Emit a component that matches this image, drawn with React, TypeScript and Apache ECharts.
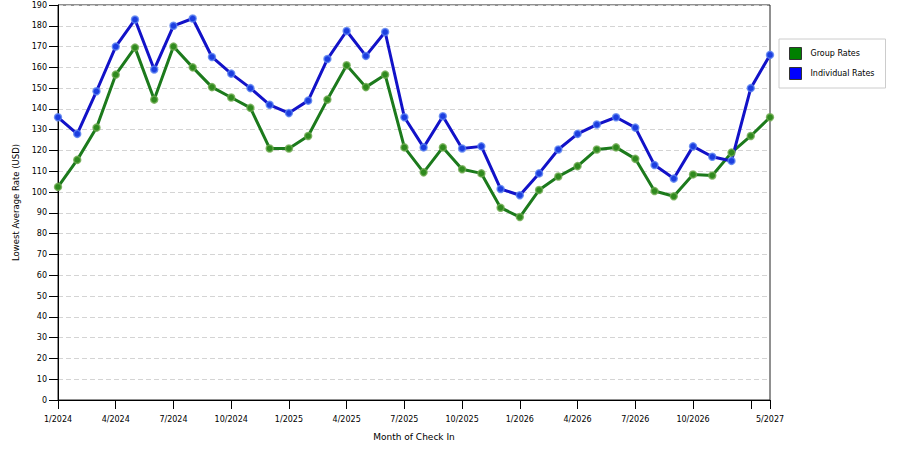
import React, { useRef, useEffect } from 'react';
import * as echarts from 'echarts';

// months on the axis (data jumps from 1/2027 to 5/2027)
const months = [
  '1/2024', '2/2024', '3/2024', '4/2024', '5/2024', '6/2024', '7/2024', '8/2024', '9/2024', '10/2024', '11/2024', '12/2024',
  '1/2025', '2/2025', '3/2025', '4/2025', '5/2025', '6/2025', '7/2025', '8/2025', '9/2025', '10/2025', '11/2025', '12/2025',
  '1/2026', '2/2026', '3/2026', '4/2026', '5/2026', '6/2026', '7/2026', '8/2026', '9/2026', '10/2026', '11/2026', '12/2026',
  '1/2027', '5/2027'
];

const groupRates = [
  102.5, 115.5, 131, 156.5, 169.5, 144.5, 170, 160, 150.5, 145.5, 140.5, 121,
  121, 127, 144.5, 161, 150.5, 156.5, 121.5, 109.5, 121.5, 111, 109, 92.5,
  88, 101, 107.5, 112.5, 120.5, 121.5, 116, 100.5, 98, 108.5, 108, 119,
  127, 136
];

const individualRates = [
  136, 128, 148.5, 170, 183, 159, 180, 183.5, 165, 157, 150, 142,
  138, 144, 164, 177.5, 165.5, 177, 136, 121.5, 136.5, 121, 122, 101.5,
  98.5, 109, 120.5, 128, 132.5, 136, 131, 113, 106.5, 122, 117, 115,
  150, 166
];

const yTicks = { min: 0, max: 190, step: 10 };

const FONT = 'DejaVu Sans, Verdana, sans-serif';
const GREEN_LINE = '#1c7a1c';
const BLUE_LINE = '#1212c8';

const tickShown = (i: number) => i % 3 === 0 || i === months.length - 1;
const labelShown = (i: number) => (i % 3 === 0 && i !== months.length - 2) || i === months.length - 1;

const App: React.FC = () => {
  const chartRef = useRef<HTMLDivElement>(null);

  useEffect(() => {
    if (!chartRef.current) return;
    const chart = echarts.init(chartRef.current, undefined, { renderer: 'svg' });

    chart.setOption({
      animation: false,
      backgroundColor: '#fff',
      textStyle: { fontFamily: FONT },
      grid: {
        left: 58,
        right: 130,
        top: 5,
        bottom: 50,
        show: true,
        borderColor: '#222',
        borderWidth: 1
      },
      legend: {
        orient: 'vertical',
        left: 779,
        top: 39,
        padding: [8, 11, 8, 10],
        borderColor: '#ccc',
        borderWidth: 1,
        itemWidth: 12,
        itemHeight: 12,
        itemGap: 7,
        icon: 'rect',
        textStyle: { fontFamily: FONT, fontSize: 8, color: '#000', padding: [0, 0, 0, 4] },
        data: [
          { name: 'Group Rates', itemStyle: { color: '#008000', borderColor: '#333', borderWidth: 1 } },
          { name: 'Individual Rates', itemStyle: { color: '#0000ff', borderColor: '#333', borderWidth: 1 } }
        ]
      },
      xAxis: {
        type: 'category',
        data: months,
        boundaryGap: false,
        name: 'Month of Check In',
        nameLocation: 'middle',
        nameGap: 32,
        nameTextStyle: { fontFamily: FONT, fontSize: 9, color: '#000' },
        axisLine: { lineStyle: { color: '#000', width: 1 } },
        axisTick: { show: true, length: 9, interval: (i: number) => tickShown(i), lineStyle: { color: '#000' } },
        axisLabel: {
          interval: (i: number) => labelShown(i),
          fontFamily: FONT,
          fontSize: 8,
          color: '#000',
          margin: 15
        },
        splitLine: { show: false }
      },
      yAxis: {
        type: 'value',
        min: yTicks.min,
        max: yTicks.max,
        interval: yTicks.step,
        name: 'Lowest Average Rate (USD)',
        nameLocation: 'middle',
        nameGap: 34,
        nameTextStyle: { fontFamily: FONT, fontSize: 8.5, color: '#000' },
        axisLine: { show: true, lineStyle: { color: '#000', width: 1 } },
        axisTick: { show: true, length: 9, lineStyle: { color: '#000' } },
        axisLabel: { fontFamily: FONT, fontSize: 8, color: '#000', margin: 11 },
        splitLine: { show: true, lineStyle: { color: '#d4d4d4', type: [5, 3], width: 1 } }
      },
      series: [
        {
          name: 'Group Rates',
          type: 'line',
          data: groupRates,
          symbol: 'circle',
          symbolSize: 7,
          lineStyle: { color: GREEN_LINE, width: 3 },
          itemStyle: { color: '#2f8a1e', borderColor: 'rgba(110,170,80,0.8)', borderWidth: 1.5 },
          emphasis: { disabled: true }
        },
        {
          name: 'Individual Rates',
          type: 'line',
          data: individualRates,
          symbol: 'circle',
          symbolSize: 7,
          lineStyle: { color: BLUE_LINE, width: 3 },
          itemStyle: { color: '#1c3ee0', borderColor: 'rgba(90,130,240,0.8)', borderWidth: 1.5 },
          emphasis: { disabled: true }
        }
      ]
    });

    return () => {
      chart.dispose();
    };
  }, []);

  return (
    <div
      ref={chartRef}
      style={{ position: 'fixed', left: 0, top: 0, width: 900, height: 450, background: '#fff' }}
    />
  );
};

export default App;
